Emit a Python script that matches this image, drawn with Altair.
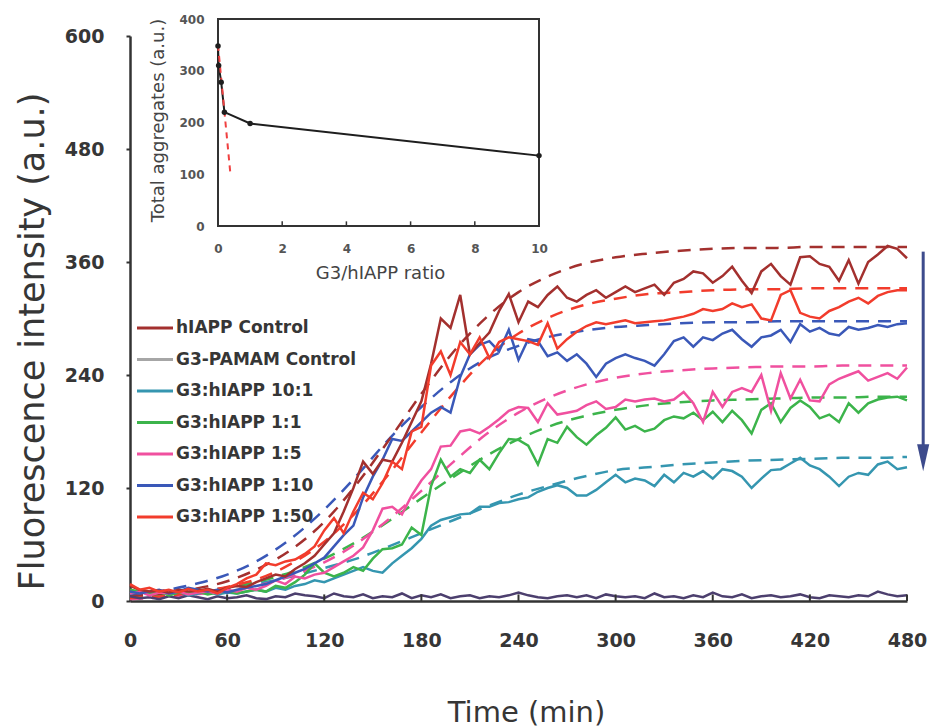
import altair as alt
import pandas as pd

# ---------------- data ----------------
series_names = ["hIAPP Control", "G3-PAMAM Control", "G3:hIAPP 10:1", "G3:hIAPP 1:1",
                "G3:hIAPP 1:5", "G3:hIAPP 1:10", "G3:hIAPP 1:50"]
legend_colors = ["#a3302e", "#a6a6a6", "#3596b0", "#3cb44b", "#f0509f", "#3a58b8", "#f23c2c"]
pamam_line_color = "#4c3f6e"

times = list(range(0, 481, 6))  # sampling times (min)

hiapp_control = [16, 12, 10, 11, 9, 12, 10, 11, 13, 10,
                 14, 16, 15, 20, 24, 28, 26, 34, 40, 48,
                 60, 72, 95, 120, 148, 135, 150, 148, 168, 190,
                 212, 252, 300, 290, 325, 262, 274, 285, 308, 326,
                 296, 318, 312, 325, 334, 322, 318, 325, 330, 322,
                 328, 334, 328, 332, 336, 325, 338, 342, 350, 348,
                 338, 345, 355, 340, 327, 350, 358, 345, 336, 365,
                 366, 358, 355, 340, 362, 337, 360, 368, 377, 374,
                 364]
g3_pamam = [5, 3, 4, 2, 5, 3, 6, 4, 2, 5,
            3, 4, 6, 3, 2, 5, 4, 8, 6, 5,
            3, 8, 5, 4, 7, 3, 5, 4, 8, 3,
            6, 4, 7, 3, 5, 6, 3, 5, 4, 6,
            9, 6, 4, 3, 5, 6, 4, 6, 3, 7,
            5, 4, 5, 3, 8, 4, 5, 3, 6, 4,
            9, 5, 4, 7, 3, 5, 6, 4, 5, 7,
            4, 3, 6, 5, 4, 6, 5, 10, 7, 5,
            6]
ratio_10_1 = [8, 10, 7, 9, 8, 10, 6, 8, 10, 7,
              9, 8, 10, 12, 10, 14, 12, 16, 18, 22,
              20, 24, 28, 32, 36, 32, 30, 40, 48, 56,
              66, 80, 86, 89, 92, 93, 100, 100, 104, 105,
              108, 110, 116, 120, 123, 120, 112, 112, 118, 126,
              134, 126, 130, 128, 122, 134, 126, 136, 132, 138,
              130, 140, 138, 132, 120, 130, 139, 140, 146, 152,
              144, 140, 132, 122, 132, 136, 134, 145, 148, 140,
              142]
ratio_1_1 = [12, 10, 8, 10, 6, 9, 8, 10, 7, 9,
             10, 8, 10, 12, 10, 16, 14, 20, 28, 40,
             30, 26, 30, 36, 32, 45, 55, 56, 60, 78,
             70, 122, 150, 132, 140, 136, 150, 140, 157, 172,
             171, 165, 145, 172, 168, 185, 174, 166, 176, 184,
             195, 182, 186, 180, 183, 192, 196, 194, 200, 192,
             201, 190, 202, 192, 178, 203, 210, 190, 205, 213,
             206, 194, 198, 190, 210, 200, 210, 214, 216, 217,
             213]
ratio_1_5 = [8, 10, 6, 9, 8, 10, 7, 9, 10, 8,
             12, 10, 14, 12, 16, 22, 18, 26, 24, 28,
             30, 36, 42, 48, 57, 75, 98, 100, 92, 112,
             128, 140, 164, 165, 180, 182, 178, 185, 193, 202,
             206, 205, 190, 210, 198, 200, 202, 208, 212, 204,
             206, 214, 212, 214, 215, 212, 214, 222, 210, 190,
             222, 206, 222, 226, 222, 240, 202, 242, 215, 235,
             213, 212, 230, 236, 240, 244, 234, 238, 242, 236,
             248]
ratio_1_10 = [10, 8, 10, 12, 8, 10, 14, 12, 10, 12,
              9, 12, 14, 16, 18, 22, 26, 30, 34, 40,
              46, 58, 70, 80, 110, 132, 150, 172, 170, 180,
              190, 200, 206, 200, 238, 262, 272, 276, 265, 288,
              256, 278, 276, 260, 264, 255, 262, 252, 238, 252,
              258, 262, 258, 255, 250, 262, 276, 280, 270, 280,
              277, 284, 288, 278, 270, 280, 282, 288, 275, 294,
              286, 290, 284, 282, 291, 288, 290, 293, 291, 294,
              295]
ratio_1_50 = [18, 12, 14, 10, 12, 9, 13, 10, 12, 8,
              14, 18, 24, 28, 40, 38, 42, 44, 50, 58,
              75, 88, 72, 95, 115, 108, 125, 148, 140, 180,
              185, 250, 265, 240, 275, 262, 280, 258, 275, 280,
              278, 276, 272, 295, 268, 278, 286, 292, 296, 294,
              296, 298, 295, 296, 297, 298, 300, 302, 305, 310,
              308, 310, 316, 312, 315, 300, 298, 325, 330, 306,
              302, 300, 308, 312, 318, 322, 316, 324, 328, 330,
              330]

fit_times = list(range(0, 481, 20))
fit_hiapp_control = [5, 8, 13, 21, 35, 55, 84, 124, 171, 220, 265, 301, 328,
                     346, 358, 365, 369, 372, 374, 375, 375, 376, 376, 376, 376]
fit_10_1 = [5, 7, 10, 14, 19, 26, 35, 45, 58, 72, 86, 100, 113,
            123, 132, 139, 142, 145, 147, 149, 150, 151, 152, 152, 153]
fit_1_1 = [4, 6, 9, 14, 21, 31, 45, 63, 85, 109, 132, 154, 172,
           186, 196, 203, 208, 211, 213, 214, 215, 216, 216, 217, 217]
fit_1_5 = [2, 4, 7, 11, 17, 27, 41, 61, 87, 117, 148, 177, 200,
           217, 229, 237, 242, 245, 247, 248, 249, 249, 250, 250, 250]
fit_1_10 = [7, 11, 18, 28, 44, 67, 97, 133, 172, 206, 235, 257, 271,
            281, 287, 291, 293, 295, 296, 296, 297, 297, 297, 297, 297]
fit_1_50 = [3, 5, 9, 15, 24, 40, 63, 95, 135, 179, 221, 258, 284,
            302, 314, 321, 326, 328, 330, 331, 331, 332, 332, 332, 332]

x_ticks = [0, 60, 120, 180, 240, 300, 360, 420, 480]
y_ticks = [0, 120, 240, 360, 480, 600]

# inset: total aggregates vs ratio
inset_ratio = [0, 0.02, 0.1, 0.2, 1, 10]
inset_total = [348, 310, 278, 220, 198, 136]
inset_fit_ratio = [0, 0.38]
inset_fit_total = [350, 105]
inset_x_ticks = [0, 2, 4, 6, 8, 10]
inset_y_ticks = [0, 100, 200, 300, 400]

# arrow (decreasing trend)
arrow_time = [490]
arrow_from = [371]
arrow_to = [152]

# ---------------- styling ----------------
FONT = "DejaVu Sans"
TXT = "#363636"
AX = "#333333"
W, H = 777, 565

raw_series = {
    "hIAPP Control": hiapp_control,
    "G3:hIAPP 10:1": ratio_10_1,
    "G3:hIAPP 1:1": ratio_1_1,
    "G3:hIAPP 1:5": ratio_1_5,
    "G3:hIAPP 1:10": ratio_1_10,
    "G3:hIAPP 1:50": ratio_1_50,
}
fit_series = {
    "hIAPP Control": fit_hiapp_control,
    "G3:hIAPP 10:1": fit_10_1,
    "G3:hIAPP 1:1": fit_1_1,
    "G3:hIAPP 1:5": fit_1_5,
    "G3:hIAPP 1:10": fit_1_10,
    "G3:hIAPP 1:50": fit_1_50,
}

color_scale = alt.Scale(domain=series_names, range=legend_colors)

x_main = alt.X("t:Q", scale=alt.Scale(domain=[0, 480], nice=False),
               axis=alt.Axis(values=x_ticks, title="Time (min)", grid=False,
                             ticks=False, tickSize=0, labelPadding=39, labelBaseline="middle",
                             labelFont=FONT, labelFontSize=19, labelFontWeight="bold",
                             labelColor=TXT, labelFlush=False, labelOverlap=False,
                             domainColor=AX, domainWidth=2.5,
                             titleFont=FONT, titleFontSize=29, titleFontWeight="normal",
                             titleColor=TXT, titleX=396, titleY=111,
                             titleBaseline="middle", titleAlign="center"))
y_main = alt.Y("v:Q", scale=alt.Scale(domain=[0, 600], nice=False),
               axis=alt.Axis(values=y_ticks, title="Fluorescence intensity (a.u.)", grid=False,
                             tickSize=4, tickWidth=2, tickColor=AX, labelPadding=22,
                             labelFont=FONT, labelFontSize=19, labelFontWeight="bold",
                             labelColor=TXT, labelFlush=False, labelOverlap=False,
                             domainColor=AX, domainWidth=2.5,
                             titleFont=FONT, titleFontSize=35, titleFontWeight="normal",
                             titleColor=TXT, titleX=-98, titleY=305, titleAngle=270,
                             titleBaseline="middle", titleAlign="center"))

main_layers = []

draw_order = ["G3:hIAPP 10:1", "G3:hIAPP 1:1", "G3:hIAPP 1:5", "G3:hIAPP 1:10",
              "hIAPP Control", "G3:hIAPP 1:50"]
# fitted (dashed) curves underneath the measured traces
for name in draw_order:
    df = pd.DataFrame({"t": fit_times, "v": fit_series[name], "series": name})
    main_layers.append(alt.Chart(df).mark_line(strokeWidth=2.5, strokeDash=[13, 9],
                                               interpolate="monotone").encode(
        x=x_main, y=y_main, color=alt.Color("series:N", scale=color_scale, legend=None)))

pamam_df = pd.DataFrame({"t": times, "v": g3_pamam})
main_layers.append(alt.Chart(pamam_df).mark_line(strokeWidth=2.5, color=pamam_line_color)
                   .encode(x=x_main, y=y_main))

for name in draw_order:
    df = pd.DataFrame({"t": times, "v": raw_series[name], "series": name})
    main_layers.append(alt.Chart(df).mark_line(strokeWidth=2.5).encode(
        x=x_main, y=y_main, color=alt.Color("series:N", scale=color_scale, legend=None)))

# inward x ticks
xt_df = pd.DataFrame({"t": x_ticks[1:]})
main_layers.append(alt.Chart(xt_df).mark_rule(color=AX, strokeWidth=2).encode(
    x=x_main, y=alt.datum(0), y2=alt.datum(7)))

# arrow
arrow_df = pd.DataFrame({"t": arrow_time, "v": arrow_from, "v2": arrow_to})
main_layers.append(alt.Chart(arrow_df).mark_rule(color="#3d4b8c", strokeWidth=3).encode(
    x=x_main, y=y_main, y2="v2:Q"))
head_df = pd.DataFrame({"t": arrow_time, "v": arrow_to})
main_layers.append(alt.Chart(head_df).mark_point(shape="M-0.45,-1L0.45,-1L0,1Z", filled=True,
                                                 size=729, color="#3d4b8c", opacity=1).encode(
    x=x_main, y=y_main))

main = alt.layer(*main_layers)

# ---------------- inset ----------------
x_in = alt.X("r:Q", scale=alt.Scale(domain=[0, 10], range=[88, 409], nice=False),
             axis=alt.Axis(orient="bottom", offset=-375, values=inset_x_ticks, domain=False,
                           ticks=False, tickSize=0, grid=False, labelPadding=17,
                           labelFont=FONT, labelFontSize=12, labelFontWeight="bold",
                           labelColor="#555555", labelFlush=False, labelOverlap=False,
                           title="G3/hIAPP ratio", titleFont=FONT, titleFontSize=18,
                           titleFontWeight="normal", titleColor="#444444",
                           titleX=250, titleY=47, titleBaseline="middle", titleAlign="center"))
y_in = alt.Y("a:Q", scale=alt.Scale(domain=[0, 400], range=[190, -17], nice=False),
             axis=alt.Axis(orient="left", offset=-88, values=inset_y_ticks, domain=False,
                           ticks=False, tickSize=0, grid=False, labelPadding=14,
                           labelFont=FONT, labelFontSize=12, labelFontWeight="bold",
                           labelColor="#555555", labelFlush=False, labelOverlap=False,
                           title="Total aggregates (a.u.)", titleFont=FONT, titleFontSize=18,
                           titleFontWeight="normal", titleColor="#444444",
                           titleX=-60, titleY=84, titleAngle=270,
                           titleBaseline="middle", titleAlign="center"))

frame_df = pd.DataFrame({"r": [inset_x_ticks[0]], "r2": [inset_x_ticks[-1]],
                         "a": [inset_y_ticks[0]], "a2": [inset_y_ticks[-1]]})
inset_frame = alt.Chart(frame_df).mark_rect(fill="white", fillOpacity=0, stroke=AX,
                                            strokeWidth=2).encode(
    x=x_in, x2="r2:Q", y=y_in, y2="a2:Q")
itick_df = pd.DataFrame({"r": inset_x_ticks[1:-1]})
inset_ticks = alt.Chart(itick_df).mark_rule(color=AX, strokeWidth=1.5).encode(
    x=x_in, y=alt.datum(0), y2=alt.datum(9))
ifit_df = pd.DataFrame({"r": inset_fit_ratio, "a": inset_fit_total})
inset_fit = alt.Chart(ifit_df).mark_line(color="#f04040", strokeWidth=2, strokeDash=[6, 5]).encode(
    x=x_in, y=y_in)
idata_df = pd.DataFrame({"r": inset_ratio, "a": inset_total})
inset_line = alt.Chart(idata_df).mark_line(color="#1e1e1e", strokeWidth=2).encode(x=x_in, y=y_in)
inset_pts = alt.Chart(idata_df).mark_point(filled=True, size=30, color="#1e1e1e", opacity=1).encode(
    x=x_in, y=y_in)
inset = alt.layer(inset_frame, inset_ticks, inset_line, inset_fit, inset_pts)

# ---------------- legend ----------------
leg_df = pd.DataFrame({"name": series_names, "row": list(range(len(series_names)))})
y_leg = alt.Y("row:Q", scale=alt.Scale(domain=[0, 6], range=[292, 481]), axis=None)
leg_lines = alt.Chart(leg_df).mark_rule(strokeWidth=3).encode(
    x=alt.value(7), x2=alt.value(43), y=y_leg,
    color=alt.Color("name:N", scale=color_scale, legend=None))
leg_text = alt.Chart(leg_df).mark_text(align="left", baseline="middle", font=FONT, fontSize=17,
                                       fontWeight="bold", color=TXT).encode(
    x=alt.value(46), y=y_leg, text="name:N")
legend = alt.layer(leg_lines, leg_text)

chart = (alt.layer(main, inset, legend)
         .resolve_scale(x="independent", y="independent")
         .properties(width=W, height=H, background="white",
                     autosize=alt.AutoSizeParams(type="none"),
                     padding={"left": 130, "top": 36, "right": 26, "bottom": 127})
         .configure_view(strokeWidth=0))

chart.save("out.html", embed_options={"renderer": "svg", "actions": False})
